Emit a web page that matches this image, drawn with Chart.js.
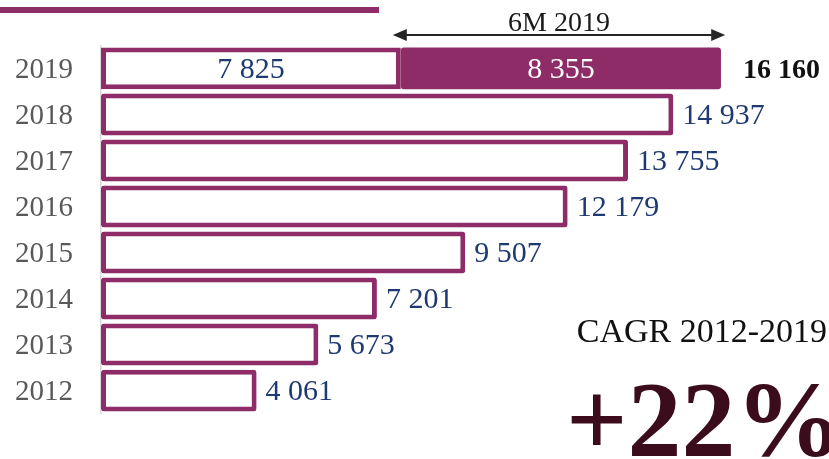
<!DOCTYPE html>
<html>
<head>
<meta charset="utf-8">
<script src="https://cdn.jsdelivr.net/npm/chart.js@4"></script>
<style>
html,body{margin:0;padding:0;background:#fff;}
#wrap{position:relative;width:829px;height:459px;}
</style>
</head>
<body>
<div id="wrap"><canvas id="c" width="829" height="459"></canvas></div>
<script>
const years = ['2019','2018','2017','2016','2015','2014','2013','2012'];
const totals = [16160, 14937, 13755, 12179, 9507, 7201, 5673, 4061];
const firstPart = [7825, 14937, 13755, 12179, 9507, 7201, 5673, 4061];
const sixMonths2019 = [8355, null, null, null, null, null, null, null];
const periodLabel = '6M 2019';
const cagrLabel = 'CAGR 2012-2019';
const cagrValue = '+22%';

const PURPLE = '#8E2C68';
const NAVY = '#1F3A72';
const SERIF = '"Liberation Serif", "DejaVu Serif", serif';

function fmt(v){ return String(v).replace(/\B(?=(\d{3})+(?!\d))/g, ' '); }

const annot = {
  id: 'annot',
  afterDatasetsDraw(chart){
    const ctx = chart.ctx;
    const m0 = chart.getDatasetMeta(0);
    const m1 = chart.getDatasetMeta(1);
    const xs = chart.scales.x;
    ctx.save();
    // top rule
    ctx.fillStyle = PURPLE;
    ctx.fillRect(0, 7, 379, 6);
    // value labels
    ctx.textBaseline = 'middle';
    m0.data.forEach((bar, i) => {
      ctx.font = '30px ' + SERIF;
      ctx.fillStyle = NAVY;
      if (i === 0) {
        ctx.textAlign = 'center';
        ctx.fillText(fmt(firstPart[0]), (bar.base + bar.x) / 2, bar.y + 2);
      } else {
        ctx.textAlign = 'left';
        ctx.fillText(fmt(firstPart[i]), bar.x + 9, bar.y + 2);
      }
    });
    const b1 = m1.data[0];
    ctx.font = '30px ' + SERIF;
    ctx.fillStyle = '#ffffff';
    ctx.textAlign = 'center';
    ctx.fillText(fmt(sixMonths2019[0]), (b1.base + b1.x) / 2, b1.y + 2);
    ctx.font = 'bold 28px ' + SERIF;
    ctx.fillStyle = '#111111';
    ctx.textAlign = 'left';
    ctx.fillText(fmt(totals[0]), b1.x + 22, b1.y + 2);

    // arrow
    const ax1 = xs.getPixelForValue(firstPart[0]) - 8;
    const ax2 = xs.getPixelForValue(totals[0]) + 5;
    const ay = 35;
    ctx.strokeStyle = '#262626';
    ctx.fillStyle = '#262626';
    ctx.lineWidth = 2;
    ctx.beginPath();
    ctx.moveTo(ax1 + 10, ay); ctx.lineTo(ax2 - 10, ay); ctx.stroke();
    ctx.beginPath();
    ctx.moveTo(ax1, ay); ctx.lineTo(ax1 + 14, ay - 6); ctx.lineTo(ax1 + 14, ay + 6); ctx.closePath(); ctx.fill();
    ctx.beginPath();
    ctx.moveTo(ax2, ay); ctx.lineTo(ax2 - 14, ay - 6); ctx.lineTo(ax2 - 14, ay + 6); ctx.closePath(); ctx.fill();
    ctx.font = '28px ' + SERIF;
    ctx.fillStyle = '#1a1a1a';
    ctx.textAlign = 'center';
    ctx.textBaseline = 'alphabetic';
    ctx.fillText(periodLabel, (ax1 + ax2) / 2, 31);

    // CAGR
    ctx.font = '34px ' + SERIF;
    ctx.fillStyle = '#111111';
    ctx.textAlign = 'right';
    ctx.fillText(cagrLabel, 827, 342);
    ctx.font = 'bold 108px ' + SERIF;
    ctx.fillStyle = '#3B0C1C';
    ctx.textAlign = 'left';
    ctx.fillText(cagrValue, 566, 456);
    ctx.restore();
  }
};

new Chart(document.getElementById('c'), {
  type: 'bar',
  data: {
    labels: years,
    datasets: [
      {
        label: 'Full year',
        data: firstPart,
        backgroundColor: '#ffffff',
        borderColor: PURPLE,
        borderWidth: 5,
        borderSkipped: false,
        borderRadius: 3,
        barPercentage: 0.91,
        categoryPercentage: 1
      },
      {
        label: periodLabel,
        data: sixMonths2019,
        backgroundColor: PURPLE,
        borderColor: PURPLE,
        borderWidth: 0,
        borderSkipped: false,
        borderRadius: 3,
        barPercentage: 0.91,
        categoryPercentage: 1
      }
    ]
  },
  options: {
    indexAxis: 'y',
    responsive: false,
    animation: false,
    layout: { padding: { top: 45, bottom: 38, left: 0, right: 0 } },
    plugins: { legend: { display: false }, tooltip: { enabled: false } },
    scales: {
      x: { stacked: true, display: false, min: 0, max: 19000 },
      y: {
        stacked: true,
        afterFit(s){ s.width = 101; },
        grid: { display: false, drawTicks: false },
        border: { display: true, color: '#d9d9d9', width: 1.5 },
        ticks: { color: '#595959', padding: 28, labelOffset: 2, font: { family: SERIF, size: 29 } }
      }
    }
  },
  plugins: [annot]
});
</script>
</body>
</html>
